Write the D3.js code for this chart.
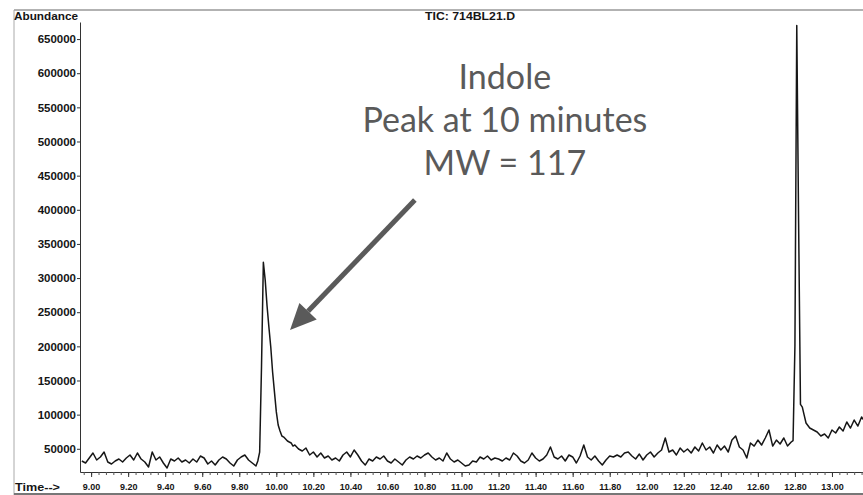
<!DOCTYPE html>
<html>
<head>
<meta charset="utf-8">
<script src="https://cdn.jsdelivr.net/npm/d3@7"></script>
<style>
body { margin: 0; background: #fff; }
</style>
</head>
<body>
<div id="chart"></div>
<script>
// TIC trace (retention time in minutes, abundance)
var scanTimes = [
	8.95, 8.97, 8.99, 9.01, 9.03, 9.05, 9.07, 9.09, 9.11, 9.13, 9.15, 9.17, 9.19,
	9.21, 9.23, 9.25, 9.27, 9.29, 9.31, 9.33, 9.35, 9.37, 9.39, 9.41, 9.43, 9.45,
	9.47, 9.49, 9.51, 9.53, 9.55, 9.57, 9.59, 9.61, 9.63, 9.65, 9.67, 9.69, 9.71,
	9.73, 9.75, 9.77, 9.79, 9.81, 9.83, 9.85, 9.87, 9.89,
	9.90, 9.91, 9.92, 9.93, 9.94, 9.95, 9.96, 9.97, 9.98, 9.99, 10.00, 10.01, 10.02,
	10.03, 10.04, 10.05, 10.06, 10.07, 10.08, 10.09, 10.10,
	10.12, 10.14, 10.16, 10.18, 10.20, 10.22, 10.24, 10.26, 10.28, 10.30, 10.32, 10.34,
	10.36, 10.38, 10.40, 10.42, 10.44, 10.46, 10.48, 10.50, 10.52, 10.54, 10.56, 10.58,
	10.60, 10.62, 10.64, 10.66, 10.68, 10.70, 10.72, 10.74, 10.76, 10.78, 10.80, 10.82,
	10.84, 10.86, 10.88, 10.90, 10.92, 10.94, 10.96, 10.98, 11.00, 11.02, 11.04, 11.06,
	11.08, 11.10, 11.12, 11.14, 11.16, 11.18, 11.20, 11.22, 11.24, 11.26, 11.28, 11.30,
	11.32, 11.34, 11.36, 11.38, 11.40, 11.42, 11.44, 11.46, 11.48, 11.50, 11.52, 11.54,
	11.56, 11.58, 11.60, 11.62, 11.64, 11.66, 11.68, 11.70, 11.72, 11.74, 11.76, 11.78,
	11.80, 11.82, 11.84, 11.86, 11.88, 11.90, 11.92, 11.94, 11.96, 11.98, 12.00, 12.02,
	12.04, 12.06, 12.08, 12.10, 12.12, 12.14, 12.16, 12.18, 12.20, 12.22, 12.24, 12.26,
	12.28, 12.30, 12.32, 12.34, 12.36, 12.38, 12.40, 12.42, 12.44, 12.46, 12.48, 12.50,
	12.52, 12.54, 12.56, 12.58, 12.60, 12.62, 12.64, 12.66, 12.68, 12.70, 12.72, 12.74,
	12.76, 12.78,
	12.79, 12.80, 12.81, 12.82, 12.83, 12.84, 12.85, 12.86,
	12.88, 12.90, 12.92, 12.94, 12.96, 12.98, 13.00, 13.02, 13.04, 13.06, 13.08, 13.10,
	13.12, 13.14, 13.16, 13.18
];

var abundance = [
	32100, 29200, 36500, 43800, 33600, 38000, 45300, 30600, 27700, 32100, 35000, 30600, 36500,
	40900, 33600, 43800, 35000, 30600, 23300, 45300, 33600, 38000, 29200, 21900, 35000, 32100,
	36500, 30600, 33600, 29200, 35000, 30600, 39400, 36500, 27700, 32100, 26200, 33600, 38000,
	35000, 29200, 24800, 33600, 38000, 40900, 33600, 29200, 24800,
	32100, 45000, 170000, 323000, 297000, 259000, 228000, 199000, 162000, 133000, 104000, 84800, 76000,
	68700, 67200, 64300, 61400, 59900, 58500, 54000, 55500,
	49700, 46800, 51100, 40900, 45300, 38000, 43800, 36500, 39400, 33600, 36500, 32100,
	40900, 45300, 38000, 48200, 40900, 32100, 26200, 35000, 32100, 38000, 35000, 39400,
	32100, 29200, 35000, 30600, 26200, 33600, 38000, 35000, 39400, 36500, 40900, 43800,
	38000, 33600, 36500, 32100, 43800, 35000, 30600, 33600, 29200, 24800, 26200, 32100,
	30600, 38000, 35000, 39400, 33600, 36500, 35000, 32100, 36500, 33600, 43800, 39400,
	32100, 29200, 33600, 43800, 36500, 32100, 35000, 40900, 52600, 38000, 35000, 39400,
	32100, 40900, 38000, 29200, 39400, 55500, 38000, 33600, 39400, 32100, 26200, 33600,
	39400, 38000, 40900, 38000, 43800, 45300, 39400, 35000, 42300, 33600, 40900, 45300,
	38000, 43800, 48200, 65800, 45300, 48200, 40900, 51100, 45300, 49700, 43800, 52600,
	46800, 58500, 48200, 52600, 43800, 55500, 48200, 54000, 45300, 62800, 68700, 52600,
	48200, 36500, 58500, 54000, 62800, 55500, 65800, 77500, 54000, 62800, 57000, 65800,
	54000, 59900,
	62000, 200000, 670000, 380000, 115000, 111000, 99400, 87700,
	80400, 77500, 74600, 68700, 71600, 65800, 77500, 73100, 81900, 76000, 89200, 80400,
	92100, 83300, 96500, 89200
];

var timeTicks = [9.00, 9.20, 9.40, 9.60, 9.80, 10.00, 10.20, 10.40, 10.60, 10.80, 11.00,
	11.20, 11.40, 11.60, 11.80, 12.00, 12.20, 12.40, 12.60, 12.80, 13.00];
var abundanceTicks = [50000, 100000, 150000, 200000, 250000, 300000, 350000, 400000,
	450000, 500000, 550000, 600000, 650000];

var titleText = "TIC: 714BL21.D";
var noteLines = ["Indole", "Peak at 10 minutes", "MW = 117"];

var width = 863, height = 495;
var axisFont = "'Liberation Sans', Arial, sans-serif";

var svg = d3.select("#chart").append("svg")
	.attr("width", width)
	.attr("height", height);

var x = d3.scaleLinear().domain([8.94, 13.2]).range([80, 869]);
var y = d3.scaleLinear().domain([16000, 675000]).range([472, 22]);

// outer frame of the print
svg.append("line")
	.attr("x1", 14).attr("x2", width).attr("y1", 10).attr("y2", 10)
	.style("stroke", "#999").style("stroke-width", 1.5);
svg.append("line")
	.attr("x1", 14).attr("x2", 14).attr("y1", 10).attr("y2", height)
	.style("stroke", "#aaa").style("stroke-width", 1);
svg.append("line")
	.attr("x1", 14).attr("x2", width).attr("y1", 494).attr("y2", 494)
	.style("stroke", "#777").style("stroke-width", 2);

svg.append("defs").append("clipPath").attr("id", "plotclip")
	.append("rect").attr("x", 80).attr("y", 20).attr("width", width - 80).attr("height", 453);

// trace
var pts = scanTimes.map(function(t, i) { return {t: t, v: abundance[i]}; });
var line = d3.line()
	.x(function(d) { return x(d.t); })
	.y(function(d) { return y(d.v); });

svg.append("path")
	.datum(pts)
	.attr("clip-path", "url(#plotclip)")
	.attr("d", line)
	.style("fill", "none")
	.style("stroke", "#161616")
	.style("stroke-width", 1.5)
	.style("stroke-linejoin", "round");

// y axis
svg.append("g")
	.attr("transform", "translate(80,0)")
	.call(d3.axisLeft(y).tickValues(abundanceTicks).tickSize(3).tickSizeOuter(0).tickPadding(1)
		.tickFormat(d3.format("d")))
	.call(function(g) {
		g.select(".domain").style("stroke", "#333");
		g.selectAll(".tick line").style("stroke", "#333");
		g.selectAll("text").style("font-family", axisFont).style("font-weight", "bold")
			.style("font-size", "11.5px").style("fill", "#151515");
	});

// x axis: minor ticks every 0.04 min, labelled ticks every 0.2 min
svg.append("g")
	.attr("transform", "translate(0,472)")
	.call(d3.axisBottom(x).tickValues(d3.range(8.96, 13.19, 0.04)).tickSize(3).tickSizeOuter(0)
		.tickFormat(""))
	.call(function(g) {
		g.select(".domain").style("stroke", "#333");
		g.selectAll(".tick line").style("stroke", "#555");
	});
svg.append("g")
	.attr("transform", "translate(0,472)")
	.call(d3.axisBottom(x).tickValues(timeTicks).tickSize(5).tickSizeOuter(0).tickPadding(7)
		.tickFormat(d3.format(".2f")))
	.call(function(g) {
		g.select(".domain").remove();
		g.selectAll(".tick line").style("stroke", "#333");
		g.selectAll("text").style("font-family", axisFont).style("font-weight", "bold")
			.style("font-size", "9px").style("fill", "#151515");
	});

svg.append("text")
	.attr("x", 15).attr("y", 491)
	.attr("textLength", 45).attr("lengthAdjust", "spacingAndGlyphs")
	.style("font-family", axisFont).style("font-weight", "bold").style("font-size", "10px")
	.style("fill", "#151515")
	.text("Time-->");

svg.append("text")
	.attr("x", 14).attr("y", 20)
	.attr("textLength", 64).attr("lengthAdjust", "spacingAndGlyphs")
	.style("font-family", axisFont).style("font-weight", "bold").style("font-size", "10px")
	.style("fill", "#151515")
	.text("Abundance");

svg.append("text")
	.attr("x", 425).attr("y", 20)
	.attr("textLength", 90).attr("lengthAdjust", "spacingAndGlyphs")
	.style("font-family", axisFont).style("font-weight", "bold").style("font-size", "10px")
	.style("fill", "#151515")
	.text(titleText);

// annotation
var note = svg.append("text")
	.attr("text-anchor", "middle")
	.style("font-family", "Lato, 'Open Sans', sans-serif")
	.style("font-size", "34px")
	.style("fill", "#5a5a5a");
noteLines.forEach(function(s, i) {
	note.append("tspan")
		.attr("x", x(11.234))
		.attr("y", 89 + i * 43)
		.text(s);
});

var tail = [x(10.748), y(414200)], tip = [x(10.074), y(223900)];
var ang = Math.atan2(tip[1] - tail[1], tip[0] - tail[0]);
var headLen = 26, headW = 12;
var base = [tip[0] - headLen * Math.cos(ang), tip[1] - headLen * Math.sin(ang)];
svg.append("line")
	.attr("x1", tail[0]).attr("y1", tail[1])
	.attr("x2", base[0]).attr("y2", base[1])
	.style("stroke", "#5a5a5a").style("stroke-width", 5);
svg.append("path")
	.attr("d", "M" + tip[0] + "," + tip[1] +
		"L" + (base[0] + headW * Math.sin(ang)) + "," + (base[1] - headW * Math.cos(ang)) +
		"L" + (base[0] - headW * Math.sin(ang)) + "," + (base[1] + headW * Math.cos(ang)) + "Z")
	.style("fill", "#5a5a5a");
</script>
</body>
</html>
